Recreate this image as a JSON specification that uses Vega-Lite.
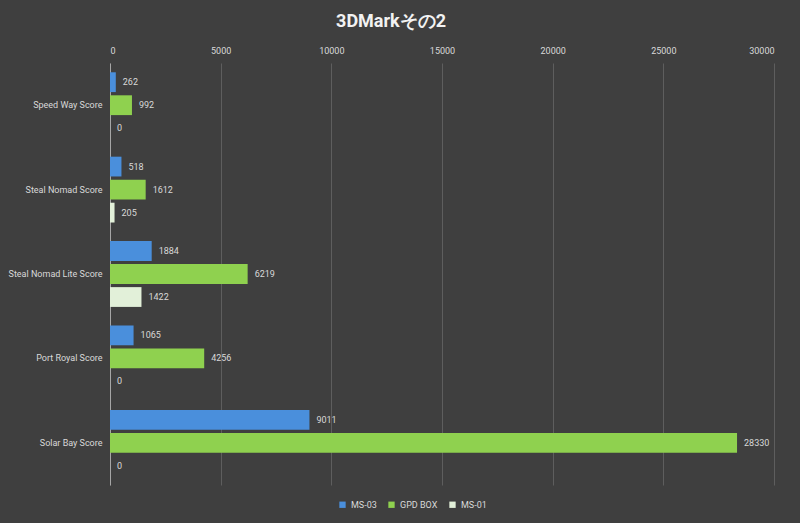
{
  "$schema": "https://vega.github.io/schema/vega-lite/v6.json",
  "autosize": {"type": "fit", "contains": "padding"},
  "width": 800,
  "height": 523,
  "padding": {"left": 8, "top": 13, "right": 26, "bottom": 38},
  "background": "#3f3f3f",
  "title": {
    "text": "3DMarkその2",
    "color": "#f2f2f2",
    "fontSize": 18,
    "font": "Roboto",
    "fontWeight": "bold",
    "offset": 15,
    "frame": "bounds"
  },
  "data": {
    "values": [
      {"test": "Speed Way Score", "device": "MS-03", "score": 262},
      {"test": "Speed Way Score", "device": "GPD BOX", "score": 992},
      {"test": "Speed Way Score", "device": "MS-01", "score": 0},
      {"test": "Steal Nomad Score", "device": "MS-03", "score": 518},
      {"test": "Steal Nomad Score", "device": "GPD BOX", "score": 1612},
      {"test": "Steal Nomad Score", "device": "MS-01", "score": 205},
      {"test": "Steal Nomad Lite Score", "device": "MS-03", "score": 1884},
      {"test": "Steal Nomad Lite Score", "device": "GPD BOX", "score": 6219},
      {"test": "Steal Nomad Lite Score", "device": "MS-01", "score": 1422},
      {"test": "Port Royal Score", "device": "MS-03", "score": 1065},
      {"test": "Port Royal Score", "device": "GPD BOX", "score": 4256},
      {"test": "Port Royal Score", "device": "MS-01", "score": 0},
      {"test": "Solar Bay Score", "device": "MS-03", "score": 9011},
      {"test": "Solar Bay Score", "device": "GPD BOX", "score": 28330},
      {"test": "Solar Bay Score", "device": "MS-01", "score": 0}
    ]
  },
  "encoding": {
    "y": {
      "field": "test",
      "type": "nominal",
      "sort": null,
      "scale": {"paddingInner": 0.22, "paddingOuter": 0.11},
      "axis": {
        "title": null,
        "ticks": false,
        "domainColor": "#a6a6a6",
        "labelColor": "#d9d9d9",
        "labelFontSize": 9,
        "labelFont": "Roboto",
        "labelPadding": 8
      }
    },
    "yOffset": {
      "field": "device",
      "type": "nominal",
      "sort": ["MS-03", "GPD BOX", "MS-01"],
      "scale": {"paddingInner": 0.14}
    },
    "x": {
      "field": "score",
      "type": "quantitative",
      "scale": {"domain": [0, 30000]},
      "axis": {
        "orient": "top",
        "title": null,
        "values": [0, 5000, 10000, 15000, 20000, 25000, 30000],
        "format": "d",
        "ticks": false,
        "domain": false,
        "gridColor": "#5e5e5e",
        "labelColor": "#d9d9d9",
        "labelFontSize": 9,
        "labelFont": "Roboto",
        "labelPadding": 8
      }
    }
  },
  "layer": [
    {
      "mark": {"type": "bar"},
      "encoding": {
        "color": {
          "field": "device",
          "type": "nominal",
          "sort": ["MS-03", "GPD BOX", "MS-01"],
          "scale": {
            "domain": ["MS-03", "GPD BOX", "MS-01"],
            "range": ["#4a8fdc", "#8fd14f", "#e2f0d9"]
          },
          "legend": {
            "orient": "none",
            "legendX": 228,
            "legendY": 437,
            "direction": "horizontal",
            "title": null,
            "symbolType": "square",
            "symbolSize": 40,
            "labelColor": "#d9d9d9",
            "labelFontSize": 9,
            "labelFont": "Roboto",
            "columnPadding": 10
          }
        }
      }
    },
    {
      "mark": {"type": "text", "align": "left", "dx": 7, "color": "#d9d9d9", "fontSize": 9, "font": "Roboto"},
      "encoding": {
        "text": {"field": "score", "type": "quantitative", "format": "d"}
      }
    }
  ],
  "config": {
    "view": {"stroke": null}
  }
}
